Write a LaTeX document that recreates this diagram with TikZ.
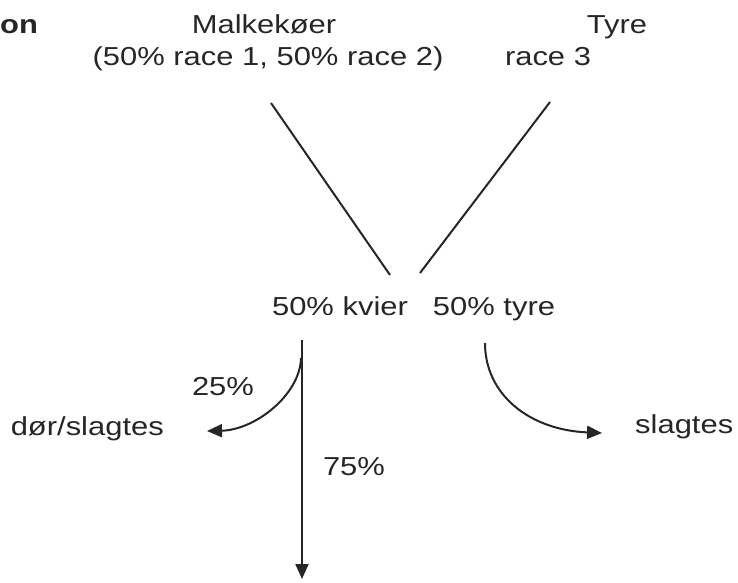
\documentclass[tikz,border=0pt]{standalone}
\usepackage{fontspec}
\setmainfont{Liberation Sans}
\usepackage{graphicx}
\usetikzlibrary{arrows.meta}
\newcommand{\hs}[1]{\scalebox{1.19}[1]{#1}}
\tikzset{
  txt/.style={font=\fontsize{26}{30}\selectfont, inner sep=0pt, anchor=base, text=black!85},
  ln/.style={line width=2pt, black!85},
  arr/.style={ln, -{Triangle[length=15pt,width=13pt]}}
}
\begin{document}
\begin{tikzpicture}[x=1pt,y=-1pt]
\useasboundingbox (0,0) rectangle (738,582);
% texts
\node[txt, anchor=base west] (on) at (0,33) {\hs{\bfseries on}};
\node[txt] (malk) at (264,33) {\hs{Malkekøer}};
\node[txt] (race12) at (268,65) {\hs{(50\% race 1, 50\% race 2)}};
\node[txt] (tyre) at (617,33) {\hs{Tyre}};
\node[txt] (race3) at (548,65) {\hs{race 3}};
\node[txt] (kvier) at (340,315) {\hs{50\% kvier}};
\node[txt] (tyre2) at (494,315) {\hs{50\% tyre}};
\node[txt] (p25) at (223,395) {\hs{25\%}};
\node[txt, anchor=base east] (dor) at (164,435) {\hs{dør/slagtes}};
\node[txt] (p75) at (354,475) {\hs{75\%}};
\node[txt, anchor=base west] (slag) at (635,433) {\hs{slagtes}};
% connector ends
\coordinate (a1) at (271,103);
\coordinate (a2) at (390,275);
\coordinate (b1) at (550,102);
\coordinate (b2) at (420,273);
\coordinate (v1) at (302,340);
\coordinate (v2) at (302,579);
\coordinate (c1) at (301,358);
\coordinate (c2) at (207,431);
\coordinate (d1) at (485,343);
\coordinate (d2) at (602,433);
% connectors
\draw[ln] (a1) -- (a2);
\draw[ln] (b1) -- (b2);
\draw[arr] (v1) -- (v2);
\draw[arr] (c1) .. controls (300,395) and (255,430) .. (c2);
\draw[arr] (d1) .. controls (485,395) and (530,430) .. (d2);
\end{tikzpicture}
\end{document}
